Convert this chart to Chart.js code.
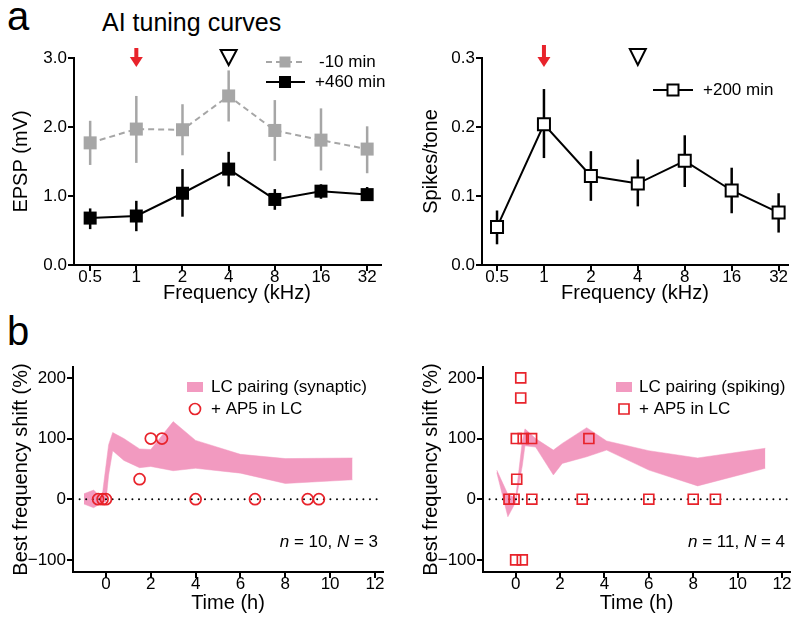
<!DOCTYPE html>
<html>
<head>
<meta charset="utf-8">
<script src="https://cdn.jsdelivr.net/npm/chart.js@4.4.1/dist/chart.umd.min.js"></script>
<style>
  body { margin: 0; background: #fff; width: 800px; height: 622px; overflow: hidden;
         font-family: "Liberation Sans", Arial, Helvetica, sans-serif; color: #000; }
  .panel { position: absolute; }
  .letter { position: absolute; font-size: 40px; line-height: 1; }
  #title { position: absolute; left: 102px; top: 10px; font-size: 25px; line-height: 1; white-space: nowrap; }
</style>
</head>
<body>
<div class="letter" style="left:7px;top:-4px">a</div>
<div id="title">AI tuning curves</div>
<div class="letter" style="left:7px;top:311px">b</div>

<div class="panel" style="left:0;top:0;width:400px;height:310px"><canvas id="epsp"></canvas></div>
<div class="panel" style="left:400px;top:0;width:400px;height:310px"><canvas id="spk"></canvas></div>
<div class="panel" style="left:0;top:310px;width:400px;height:312px"><canvas id="shiftSyn"></canvas></div>
<div class="panel" style="left:400px;top:310px;width:400px;height:312px"><canvas id="shiftSpk"></canvas></div>

<script>
// ---------- data: panel a (tuning curves) ----------
const freqLabels = ['0.5', '1', '2', '4', '8', '16', '32'];
const pairedFreq = '1';   // red arrow
const bestFreq = '4';     // open triangle

const epspPre   = [1.77, 1.97, 1.96, 2.45, 1.95, 1.81, 1.68];
const epspPreLo = [1.45, 1.48, 1.59, 2.08, 1.51, 1.37, 1.33];
const epspPreHi = [2.09, 2.45, 2.33, 2.82, 2.39, 2.27, 2.01];

const epspPost   = [0.68, 0.71, 1.04, 1.39, 0.95, 1.07, 1.02];
const epspPostLo = [0.52, 0.49, 0.70, 1.14, 0.80, 0.96, 0.93];
const epspPostHi = [0.82, 0.93, 1.39, 1.64, 1.10, 1.17, 1.13];

const spikes   = [0.055, 0.204, 0.129, 0.118, 0.151, 0.108, 0.076];
const spikesLo = [0.030, 0.155, 0.093, 0.085, 0.113, 0.075, 0.047];
const spikesHi = [0.079, 0.255, 0.165, 0.153, 0.188, 0.141, 0.104];

// ---------- data: panel b (best frequency shift over time) ----------
const synTime = [-0.98, -0.55, -0.18, 0.0, 0.12, 0.3, 0.8, 1.5, 2.0, 3.0, 4.0, 6.0, 8.0, 11.0];
const synHi   = [9, 15, 2, 55, 90, 110, 100, 83, 82, 128, 97, 74, 67, 68];
const synLo   = [-8, -14, -6, -4, 40, 80, 64, 52, 54, 47, 51, 43, 26, 32];

const spkTime = [-0.85, -0.35, 0.0, 0.3, 0.42, 0.9, 1.7, 2.1, 3.2, 4.1, 6.0, 8.2, 11.25];
const spkHi   = [48, 8, 2, 95, 116, 100, 81, 92, 118, 96, 80, 68, 84];
const spkLo   = [44, -29, -5, 55, 88, 86, 40, 59, 70, 81, 48, 22, 51];

const ap5SynTime = [-0.35, -0.15, 0.0, 1.5, 2.0, 2.5, 4.0, 6.65, 9.0, 9.5];
const ap5SynShift = [0, 0, 0, 33, 100, 100, 0, 0, 0, 0];

const ap5SpkTime = [0.23, 0.23, 0.03, 0.34, 0.72, 3.3, 0.05, -0.3, -0.07, 0.73, 3.0, 6.0, 8.0, 9.0, 0.0, 0.3];
const ap5SpkShift = [200, 167, 100, 100, 100, 100, 33, 0, 0, 0, 0, 0, 0, 0, -100, -100];

const timeMin = -1.47, timeMax = 12.36;

// ---------- style ----------
const FONT = '"Liberation Sans", Arial, Helvetica, sans-serif';
const GRAY = '#a6a6a6';
const PINK = '#f29ac0';
const RED = '#e8232b';
Chart.defaults.font.family = FONT;
Chart.defaults.color = '#000';
Chart.defaults.animation = false;

const pts = (xs, ys) => xs.map((x, i) => ({ x: x, y: ys[i] }));
const idx = freqLabels.map((_, i) => i);

function xAxis(min, max, step, cb, title, h, tpad) {
  return {
    type: 'linear', min: min, max: max,
    afterFit: s => { s.height = h; },
    grid: { display: true, drawOnChartArea: false, drawTicks: true, tickLength: 6, color: '#000', lineWidth: 2 },
    border: { display: true, color: '#000', width: 2 },
    ticks: { stepSize: step, includeBounds: false, autoSkip: false, maxRotation: 0, padding: -4,
             color: '#000', font: { size: 17 }, callback: cb },
    title: { display: !!title, text: title, color: '#000', font: { size: 20 }, padding: { top: 0, bottom: tpad } }
  };
}
function yAxis(min, max, step, cb, title, w, tpad) {
  return {
    type: 'linear', min: min, max: max,
    afterFit: s => { s.width = w; },
    grid: { display: true, drawOnChartArea: false, drawTicks: true, tickLength: 6, color: '#000', lineWidth: 2 },
    border: { display: true, color: '#000', width: 2 },
    ticks: { stepSize: step, includeBounds: false, autoSkip: false, padding: 1,
             color: '#000', font: { size: 17 }, callback: cb },
    title: { display: true, text: title, color: '#000', font: { size: 20 }, padding: { top: tpad, bottom: 0 } }
  };
}

// error bars, drawn under the markers
const errorBars = {
  id: 'errorBars',
  beforeDatasetsDraw(chart) {
    const ctx = chart.ctx, xs = chart.scales.x, ys = chart.scales.y;
    chart.data.datasets.forEach(ds => {
      if (!ds.errLo) return;
      ctx.save();
      ctx.strokeStyle = ds.errColor;
      ctx.lineWidth = ds.errWidth;
      ds.data.forEach((p, j) => {
        const x = xs.getPixelForValue(p.x);
        ctx.beginPath();
        ctx.moveTo(x, ys.getPixelForValue(ds.errLo[j]));
        ctx.lineTo(x, ys.getPixelForValue(ds.errHi[j]));
        ctx.stroke();
      });
      ctx.restore();
    });
  }
};

function square(ctx, x, y, s, fill, stroke, lw) {
  ctx.beginPath();
  ctx.rect(x - s / 2, y - s / 2, s, s);
  if (fill) { ctx.fillStyle = fill; ctx.fill(); }
  if (stroke) { ctx.strokeStyle = stroke; ctx.lineWidth = lw; ctx.stroke(); }
}

function redArrow(ctx, x, top, tip) {
  ctx.fillStyle = RED;
  ctx.fillRect(x - 2, top, 4, tip - top - 8);
  ctx.beginPath();
  ctx.moveTo(x - 6.5, tip - 10);
  ctx.lineTo(x + 6.5, tip - 10);
  ctx.lineTo(x, tip);
  ctx.closePath();
  ctx.fill();
}

function openTriangle(ctx, x, top, tip) {
  ctx.beginPath();
  ctx.moveTo(x - 8, top);
  ctx.lineTo(x + 8, top);
  ctx.lineTo(x, tip);
  ctx.closePath();
  ctx.fillStyle = '#fff';
  ctx.fill();
  ctx.strokeStyle = '#000';
  ctx.lineWidth = 2;
  ctx.stroke();
}

function legendText(ctx, t, x, y) {
  ctx.font = '17px ' + FONT;
  ctx.fillStyle = '#000';
  ctx.textAlign = 'left';
  ctx.textBaseline = 'middle';
  ctx.fillText(t, x, y);
}

function noteText(ctx, parts, right, base) {
  ctx.textBaseline = 'alphabetic';
  ctx.textAlign = 'left';
  ctx.fillStyle = '#000';
  let w = 0;
  parts.forEach(p => { ctx.font = (p.it ? 'italic ' : '') + '17px ' + FONT; w += ctx.measureText(p.t).width; });
  let x = right - w;
  parts.forEach(p => {
    ctx.font = (p.it ? 'italic ' : '') + '17px ' + FONT;
    ctx.fillText(p.t, x, base);
    x += ctx.measureText(p.t).width;
  });
}

// ---------- a: EPSP tuning ----------
new Chart(document.getElementById('epsp'), {
  type: 'line',
  data: {
    datasets: [
      { data: pts(idx, epspPost), errLo: epspPostLo, errHi: epspPostHi, errColor: '#000', errWidth: 2.5,
        borderColor: '#000', borderWidth: 2, pointStyle: 'rect', pointRadius: 9.2,
        pointBackgroundColor: '#000', pointBorderWidth: 0, order: 0 },
      { data: pts(idx, epspPre), errLo: epspPreLo, errHi: epspPreHi, errColor: GRAY, errWidth: 2.5,
        borderColor: GRAY, borderWidth: 2, borderDash: [6, 4], pointStyle: 'rect', pointRadius: 9.2,
        pointBackgroundColor: GRAY, pointBorderWidth: 0, order: 1 }
    ]
  },
  options: {
    responsive: true, maintainAspectRatio: false, events: [],
    layout: { padding: { left: 0, top: 58, right: 19, bottom: 0 } },
    plugins: { legend: { display: false }, tooltip: { enabled: false } },
    scales: {
      x: xAxis(-0.35, 6.3, 1, v => freqLabels[v] ?? '', '', 45, 5),
      y: yAxis(0, 3, 1, v => v.toFixed(1), 'EPSP (mV)', 74, 9)
    }
  },
  plugins: [errorBars, {
    id: 'decorA',
    afterDraw(chart) {
      const ctx = chart.ctx, xs = chart.scales.x;
      ctx.save();
      // x-axis title, set a little right of the plot centre as in the figure
      ctx.font = '20px ' + FONT;
      ctx.fillStyle = '#000';
      ctx.textAlign = 'center';
      ctx.textBaseline = 'middle';
      ctx.fillText('Frequency (kHz)', 237, 293);
      redArrow(ctx, xs.getPixelForValue(freqLabels.indexOf(pairedFreq)), 48, 67);
      openTriangle(ctx, xs.getPixelForValue(freqLabels.indexOf(bestFreq)), 50, 65);
      // legend
      ctx.strokeStyle = GRAY; ctx.lineWidth = 2; ctx.setLineDash([6, 4]);
      ctx.beginPath(); ctx.moveTo(266, 62); ctx.lineTo(305, 62); ctx.stroke();
      ctx.setLineDash([]);
      square(ctx, 285, 62, 11, GRAY);
      legendText(ctx, '-10 min', 319, 62);
      ctx.strokeStyle = '#000'; ctx.lineWidth = 2;
      ctx.beginPath(); ctx.moveTo(266, 82); ctx.lineTo(305, 82); ctx.stroke();
      square(ctx, 285, 82, 12, '#000');
      legendText(ctx, '+460 min', 315, 82);
      ctx.restore();
    }
  }]
});

// ---------- a: spikes tuning ----------
new Chart(document.getElementById('spk'), {
  type: 'line',
  data: {
    datasets: [
      { data: pts(idx, spikes), errLo: spikesLo, errHi: spikesHi, errColor: '#000', errWidth: 2.5,
        borderColor: '#000', borderWidth: 2, pointStyle: 'rect', pointRadius: 8.5,
        pointBackgroundColor: '#fff', pointBorderColor: '#000', pointBorderWidth: 2 }
    ]
  },
  options: {
    responsive: true, maintainAspectRatio: false, events: [],
    layout: { padding: { left: 0, top: 58, right: 12, bottom: 0 } },
    plugins: { legend: { display: false }, tooltip: { enabled: false } },
    scales: {
      x: xAxis(-0.32, 6.2, 1, v => freqLabels[v] ?? '', 'Frequency (kHz)', 45, 5),
      y: yAxis(0, 0.3, 0.1, v => v.toFixed(1), 'Spikes/tone', 82, 19)
    }
  },
  plugins: [errorBars, {
    id: 'decorA2',
    afterDraw(chart) {
      const ctx = chart.ctx, xs = chart.scales.x;
      ctx.save();
      redArrow(ctx, xs.getPixelForValue(freqLabels.indexOf(pairedFreq)), 45, 67);
      openTriangle(ctx, xs.getPixelForValue(freqLabels.indexOf(bestFreq)), 49, 65);
      ctx.strokeStyle = '#000'; ctx.lineWidth = 2;
      ctx.beginPath(); ctx.moveTo(253, 90); ctx.lineTo(293, 90); ctx.stroke();
      square(ctx, 273, 90, 11, '#fff', '#000', 2);
      legendText(ctx, '+200 min', 303, 90);
      ctx.restore();
    }
  }]
});

// ---------- b: best frequency shift ----------
function shiftChart(id, bandT, bandHi, bandLo, apT, apY, style, names, note, padRight, yW, yTitlePad, lg) {
  new Chart(document.getElementById(id), {
    type: 'line',
    data: {
      datasets: [
        { data: pts(apT, apY), showLine: false, pointStyle: style, pointRadius: style === 'rect' ? 7 : 5.5,
          pointBorderColor: RED, pointBackgroundColor: 'rgba(0,0,0,0)', pointBorderWidth: 1.7, order: 0 },
        { data: pts([timeMin, timeMax], [0, 0]), borderColor: '#000', borderWidth: 2, borderDash: [0, 6.6],
          borderCapStyle: 'round', pointRadius: 0, order: 1 },
        { data: pts(bandT, bandHi), borderColor: PINK, borderWidth: 0.5, backgroundColor: PINK,
          fill: '+1', pointRadius: 0, order: 2 },
        { data: pts(bandT, bandLo), borderColor: PINK, borderWidth: 0.5, fill: false, pointRadius: 0, order: 2 }
      ]
    },
    options: {
      responsive: true, maintainAspectRatio: false, events: [],
      layout: { padding: { left: 0, top: 57, right: padRight, bottom: 0 } },
      plugins: { legend: { display: false }, tooltip: { enabled: false } },
      scales: {
        x: xAxis(timeMin, timeMax, 2, v => String(v), 'Time (h)', 50, 7),
        y: yAxis(-120, 218, 100, v => (v < 0 ? '\u2212' + Math.abs(v) : String(v)), 'Best frequency shift (%)', yW, yTitlePad)
      }
    },
    plugins: [{
      id: 'decorB',
      afterDraw(chart) {
        const ctx = chart.ctx;
        ctx.save();
        ctx.fillStyle = PINK;
        ctx.fillRect(lg.x - 8, 72, 16, 10);
        legendText(ctx, names[0], lg.tx, 77);
        ctx.strokeStyle = RED; ctx.lineWidth = 1.7;
        ctx.beginPath();
        if (style === 'rect') ctx.rect(lg.x - 5, 99 - 5, 10, 10);
        else ctx.arc(lg.x, 99, 5.5, 0, Math.PI * 2);
        ctx.stroke();
        legendText(ctx, names[1], lg.tx, 99);
        noteText(ctx, note, lg.right, 237);
        ctx.restore();
      }
    }]
  });
}

shiftChart('shiftSyn', synTime, synHi, synLo, ap5SynTime, ap5SynShift, 'circle',
  ['LC pairing (synaptic)', '+ AP5 in LC'],
  [{ t: 'n', it: true }, { t: ' = 10, ' }, { t: 'N', it: true }, { t: ' = 3' }],
  17, 73, 9, { x: 195, tx: 211, right: 378 });

shiftChart('shiftSpk', spkTime, spkHi, spkLo, ap5SpkTime, ap5SpkShift, 'rect',
  ['LC pairing (spiking)', '+ AP5 in LC'],
  [{ t: 'n', it: true }, { t: ' = 11, ' }, { t: 'N', it: true }, { t: ' = 4' }],
  10, 83, 19, { x: 224, tx: 239, right: 385 });
</script>
</body>
</html>
